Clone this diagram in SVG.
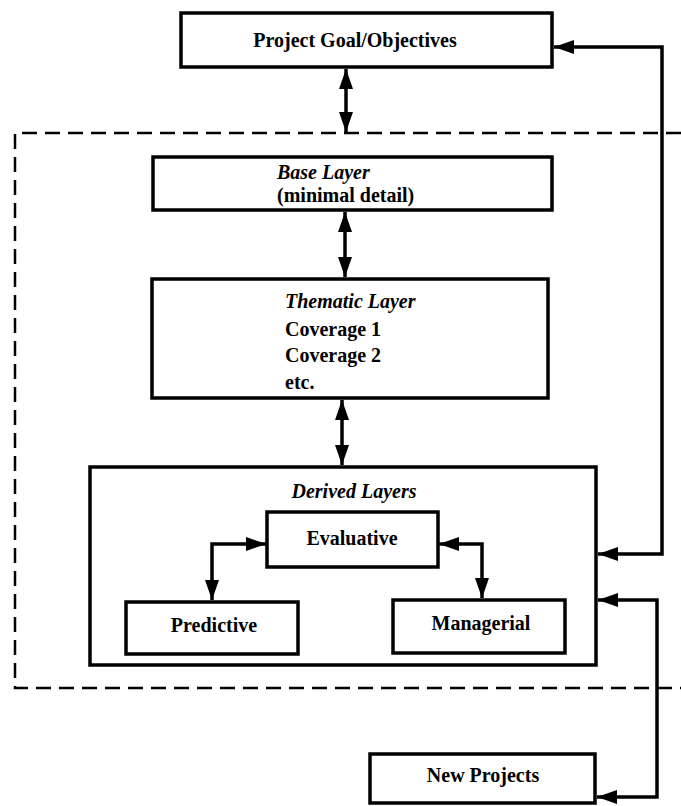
<svg xmlns="http://www.w3.org/2000/svg" width="681" height="806" viewBox="0 0 681 806">
<style>
.box{fill:#fff;stroke:#000;stroke-width:3.5}
.t{font-family:"Liberation Serif","Times New Roman",serif;font-weight:bold;font-size:20px;fill:#000}
.i{font-style:italic}
.c{stroke:#000;stroke-width:3.5;fill:none}
.d{stroke:#000;stroke-width:2.5;fill:none;stroke-dasharray:15 8}
</style>
<defs>
<marker id="ah" markerUnits="userSpaceOnUse" markerWidth="22" markerHeight="16" refX="20" refY="7" orient="auto-start-reverse">
<path d="M0,0 L20,7 L0,14 z" fill="#000"/>
</marker>
</defs>
<g id="region">
<path class="d" d="M681,133 L15,133 L15,688 L681,688"/>
</g>
<g id="goal">
<rect class="box" x="181" y="13" width="371" height="54"/>
<text class="t" x="355" y="47" text-anchor="middle">Project Goal/Objectives</text>
</g>
<g id="base">
<rect class="box" x="153" y="157" width="399" height="53"/>
<text class="t i" x="277" y="179">Base Layer</text>
<text class="t" x="277" y="202">(minimal detail)</text>
</g>
<g id="thematic">
<rect class="box" x="152" y="279" width="396" height="119"/>
<text class="t i" x="285" y="308">Thematic Layer</text>
<text class="t" x="285" y="336">Coverage 1</text>
<text class="t" x="285" y="362">Coverage 2</text>
<text class="t" x="285" y="389">etc.</text>
</g>
<g id="derived">
<rect class="box" x="90" y="467" width="506" height="198"/>
<text class="t i" x="354" y="498" text-anchor="middle">Derived Layers</text>
</g>
<g id="evaluative">
<rect class="box" x="267" y="512" width="171" height="55"/>
<text class="t" x="352" y="545" text-anchor="middle">Evaluative</text>
</g>
<g id="predictive">
<rect class="box" x="126" y="602" width="172" height="52"/>
<text class="t" x="214" y="632" text-anchor="middle">Predictive</text>
</g>
<g id="managerial">
<rect class="box" x="393" y="600" width="172" height="53"/>
<text class="t" x="481" y="630" text-anchor="middle">Managerial</text>
</g>
<g id="newprojects">
<rect class="box" x="370" y="754" width="225" height="49"/>
<text class="t" x="483" y="782" text-anchor="middle">New Projects</text>
</g>
<g id="connectors">
<path class="c" d="M346,69 L346,132" marker-start="url(#ah)" marker-end="url(#ah)"/>
<path class="c" d="M345,212 L345,277" marker-start="url(#ah)" marker-end="url(#ah)"/>
<path class="c" d="M342,400 L342,465" marker-start="url(#ah)" marker-end="url(#ah)"/>
<path class="c" d="M266,544 L212,544 L212,600" marker-start="url(#ah)" marker-end="url(#ah)"/>
<path class="c" d="M439,544 L482,544 L482,598" marker-start="url(#ah)" marker-end="url(#ah)"/>
<path class="c" d="M554,47 L662,47 L662,554 L598,554" marker-start="url(#ah)" marker-end="url(#ah)"/>
<path class="c" d="M598,600 L657,600 L657,797 L597,797" marker-start="url(#ah)" marker-end="url(#ah)"/>
</g>
</svg>
